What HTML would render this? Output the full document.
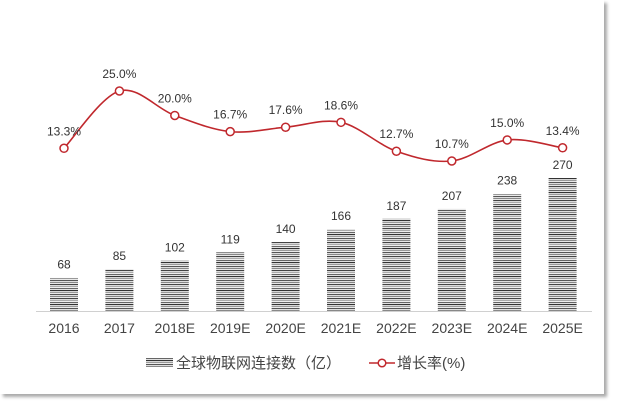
<!DOCTYPE html>
<html><head><meta charset="utf-8"><style>
body{margin:0;background:#fff;width:620px;height:411px;overflow:hidden;font-family:"Liberation Sans","Noto Sans CJK SC",sans-serif;}
#card{position:absolute;left:0;top:0;width:604px;height:394px;background:#fff;box-shadow:3px 3px 3px #aaa;}
</style></head><body>
<div id="card"></div>
<svg id="chart" width="620" height="411" style="position:absolute;left:0;top:0">
<defs>
<pattern id="stripes" width="4" height="14" patternUnits="userSpaceOnUse">
<rect width="4" height="14" fill="#fff"/>
<rect y="0" width="4" height="1.2" fill="#555"/>
<rect y="2" width="4" height="1.2" fill="#888"/>
<rect y="4" width="4" height="1.2" fill="#444"/>
<rect y="6" width="4" height="1.2" fill="#aaa"/>
<rect y="8" width="4" height="1.2" fill="#666"/>
<rect y="10" width="4" height="1.2" fill="#333"/>
<rect y="12" width="4" height="1.2" fill="#999"/>
</pattern>
</defs>
<line x1="36" x2="592" y1="311.5" y2="311.5" stroke="#d0d0d0" stroke-width="1"/>
<g id="bars"></g><g id="line"></g><g id="labels"></g>
<g>
<rect x="146" y="358" width="27" height="9" fill="url(#stripes)"/>
<text x="176" y="368" font-size="15" fill="#444">全球物联网连接数（亿）</text>
<line x1="369" x2="395" y1="363" y2="363" stroke="#c0282d" stroke-width="1.5"/>
<circle cx="382" cy="363" r="3.8" fill="#fff" stroke="#c0282d" stroke-width="1.5"/>
<text x="397" y="368" font-size="15" fill="#444">增长率(%)</text>
</g>
</svg>
<script>
const categories=["2016","2017","2018E","2019E","2020E","2021E","2022E","2023E","2024E","2025E"];
const connections=[68,85,102,119,140,166,187,207,238,270];
const growthRates=[13.3,25.0,20.0,16.7,17.6,18.6,12.7,10.7,15.0,13.4];
const NS="http://www.w3.org/2000/svg";
function xPos(i){return 64+i*55.4;}
function yBar(v){return 311-v*0.493;}
function yLine(v){return 91+(25-v)*4.895;}
function mk(tag,attrs,parent){const e=document.createElementNS(NS,tag);for(const k in attrs)e.setAttribute(k,attrs[k]);parent.appendChild(e);return e;}
const bars=document.getElementById('bars'),lineG=document.getElementById('line'),labels=document.getElementById('labels');
categories.forEach((c,i)=>{
  const x=xPos(i),y=yBar(connections[i]);
  const r=mk('rect',{x:x-14,y:y,width:28,height:311-y,fill:'url(#stripes)'},bars);
  
  
  const t=mk('text',{x:x,y:y-9,'text-anchor':'middle','font-size':12,fill:'#333'},labels);
  t.textContent=connections[i];
  
  
  const xl=mk('text',{x:x,y:333,'text-anchor':'middle','font-size':14,fill:'#444'},labels);
  xl.textContent=c;
  
  
});
const pts=growthRates.map((v,i)=>[xPos(i),yLine(v)]);
let d='M'+pts[0][0]+','+pts[0][1];
for(let i=0;i<pts.length-1;i++){
  const p0=pts[Math.max(0,i-1)],p1=pts[i],p2=pts[i+1],p3=pts[Math.min(pts.length-1,i+2)];
  const c1=[p1[0]+(p2[0]-p0[0])/6,p1[1]+(p2[1]-p0[1])/6],c2=[p2[0]-(p3[0]-p1[0])/6,p2[1]-(p3[1]-p1[1])/6];
  d+=' C'+c1+' '+c2+' '+p2;
}
const path=mk('path',{d:d,fill:'none',stroke:'#c0282d','stroke-width':1.6},lineG);


pts.forEach((p,i)=>{
  const c=mk('circle',{cx:p[0],cy:p[1],r:4,fill:'#fff',stroke:'#c0282d','stroke-width':1.5},lineG);
  
  
  const t=mk('text',{x:p[0],y:p[1]-13,'text-anchor':'middle','font-size':12,fill:'#333'},labels);
  t.textContent=growthRates[i].toFixed(1)+'%';
  
  
});
</script>
</body></html>
